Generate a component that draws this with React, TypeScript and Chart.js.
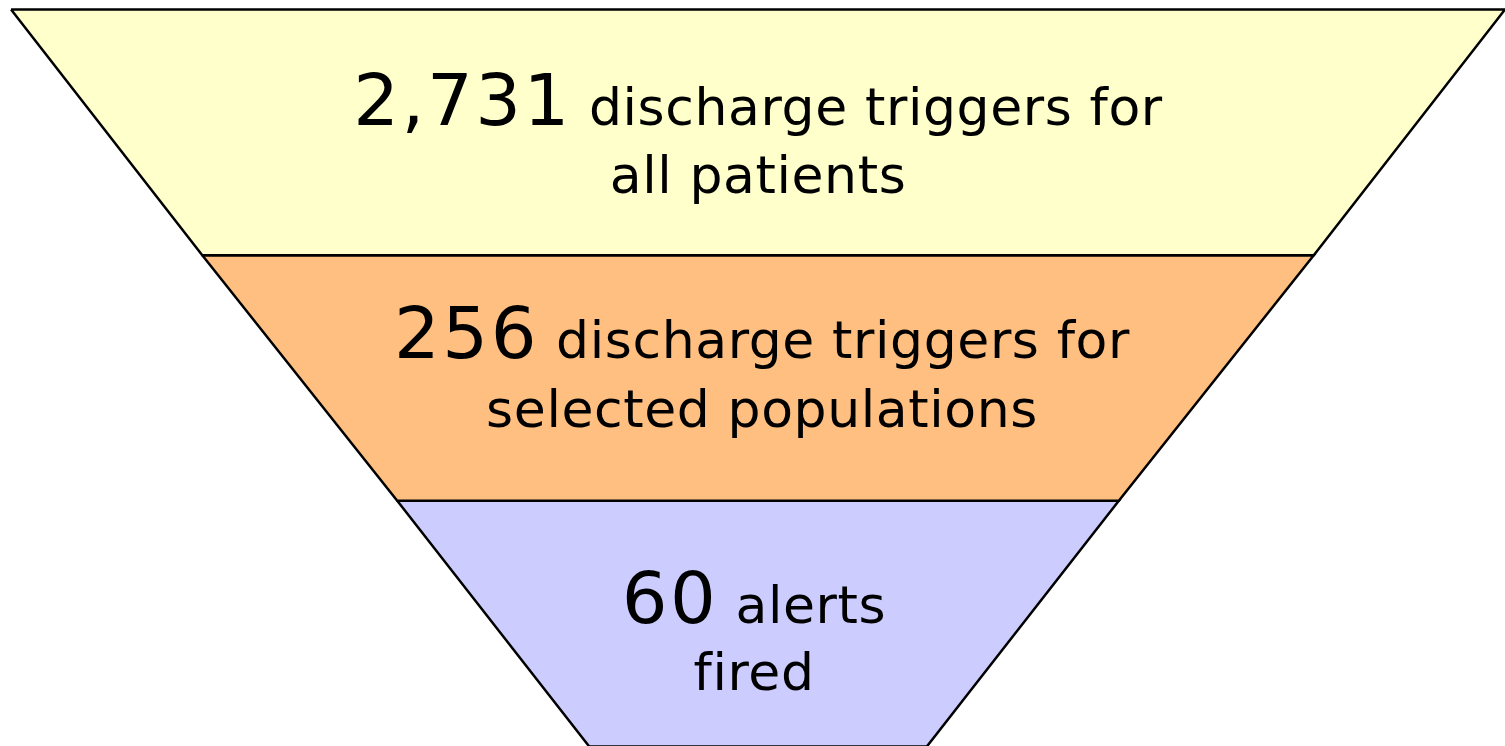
import React, { useEffect, useRef } from "react";
import { Chart, registerables } from "chart.js";

Chart.register(...registerables);

// ---- data ----
const stageCounts = [2731, 256, 60];
const stageTextLine1 = ["discharge triggers for", "discharge triggers for", "alerts"];
const stageTextLine2 = ["all patients", "selected populations", "fired"];
// funnel width at each stage boundary (top of stage 1 ... bottom of stage 3), % of top width
const boundaryWidths = [100, 74.4, 48.3, 22.6];
const stageColors = ["#FFFFCC", "#FFBF80", "#CCCCFF"];

// ---- text layout (style) ----
const textLayout = [
  { dx: 0, y1: 0.47, y2: 0.747 },
  { dx: 4, y1: 0.417, y2: 0.698 },
  { dx: -4, y1: 0.499, y2: 0.772 },
];
const FONT = '"DejaVu Sans", Verdana, sans-serif';
const BIG = 72;
const SMALL = 52;
const BIG_SPACING = "2.5px";
const SMALL_SPACING = "0.6px";

const labelPlugin = {
  id: "funnelLabels",
  afterDatasetsDraw(chart: any) {
    const { ctx, scales } = chart;
    const xs = scales.x;
    const ys = scales.y;
    ctx.save();
    ctx.fillStyle = "#000";
    ctx.textBaseline = "alphabetic";
    stageCounts.forEach((count, i) => {
      const lay = textLayout[i];
      const cx = xs.getPixelForValue(0) + lay.dx;
      const numStr = count.toLocaleString("en-US");
      const rest = " " + stageTextLine1[i];
      ctx.font = `${BIG}px ${FONT}`;
      ctx.letterSpacing = BIG_SPACING;
      const w1 = ctx.measureText(numStr).width;
      ctx.font = `${SMALL}px ${FONT}`;
      ctx.letterSpacing = SMALL_SPACING;
      const w2 = ctx.measureText(rest).width;
      const start = cx - (w1 + w2) / 2;
      const yb1 = ys.getPixelForValue(i + lay.y1);
      ctx.textAlign = "left";
      ctx.font = `${BIG}px ${FONT}`;
      ctx.letterSpacing = BIG_SPACING;
      ctx.fillText(numStr, start, yb1);
      ctx.font = `${SMALL}px ${FONT}`;
      ctx.letterSpacing = SMALL_SPACING;
      ctx.fillText(rest, start + w1, yb1);
      ctx.textAlign = "center";
      const yb2 = ys.getPixelForValue(i + lay.y2);
      ctx.fillText(stageTextLine2[i], cx, yb2);
    });
    ctx.restore();
  },
};

export default function App() {
  const ref = useRef<HTMLCanvasElement | null>(null);

  useEffect(() => {
    document.body.style.margin = "0";
    const canvas = ref.current;
    if (!canvas) return;
    const datasets = stageCounts.map((_, i) => {
      const top = boundaryWidths[i] / 2;
      const bot = boundaryWidths[i + 1] / 2;
      return {
        label: stageTextLine1[i],
        data: [
          { x: -top, y: i },
          { x: top, y: i },
          { x: bot, y: i + 1 },
          { x: -bot, y: i + 1 },
          { x: -top, y: i },
        ],
        showLine: true,
        fill: "shape",
        backgroundColor: stageColors[i],
        borderColor: "#000000",
        borderWidth: 2.5,
        pointRadius: 0,
        pointHoverRadius: 0,
        tension: 0,
        clip: false,
        borderJoinStyle: "miter",
      };
    });
    const chart = new Chart(canvas, {
      type: "scatter",
      data: { datasets } as any,
      options: {
        animation: false,
        responsive: true,
        maintainAspectRatio: false,
        layout: { padding: 0 },
        plugins: { legend: { display: false }, tooltip: { enabled: false } },
        scales: {
          x: { type: "linear", min: -50.74, max: 50.0, display: false },
          y: { type: "linear", reverse: true, min: -0.0387, max: 2.998, display: false },
        },
      } as any,
      plugins: [labelPlugin],
    });
    return () => chart.destroy();
  }, []);

  return (
    <div style={{ position: "absolute", left: 0, top: 0, width: 1505, height: 746, background: "#fff" }}>
      <canvas ref={ref} />
    </div>
  );
}
